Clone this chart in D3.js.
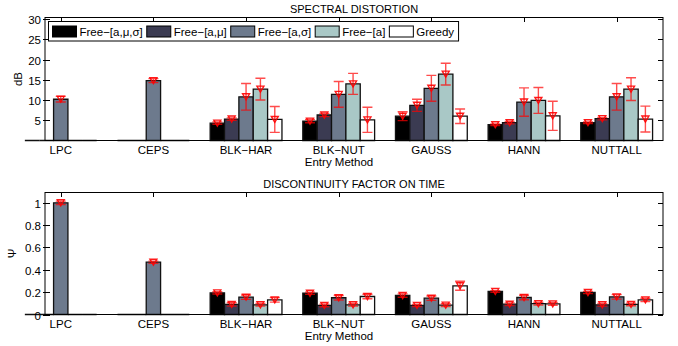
<!DOCTYPE html>
<html lang="en">
  <head>
    <meta charset="utf-8">
    <title>Spectral distortion and discontinuity</title>
    <script src="https://d3js.org/d3.v7.min.js" charset="utf-8"></script>
    <style>
      body { margin: 0; background: white; }
      text { font-family: "Liberation Sans", Arial, sans-serif; fill: #000; }
    </style>
  </head>
  <body>
    <script>
      var categories = ["LPC", "CEPS", "BLK\u2212HAR", "BLK\u2212NUT", "GAUSS", "HANN", "NUTTALL"];
      var series = ["Free\u2212[a,\u03bc,\u03c3]", "Free\u2212[a,\u03bc]", "Free\u2212[a,\u03c3]", "Free\u2212[a]", "Greedy"];
      var colors = ["#000000", "#3b3b52", "#6d7a8d", "#a9c8c6", "#ffffff"];

      // spectral distortion (dB), one row per series
      var sdMean = [
        [0, 0, 4.3, 4.8, 6.0, 3.9, 4.4],
        [0, 0, 5.3, 6.3, 8.7, 4.4, 5.4],
        [10.2, 14.8, 10.8, 11.4, 12.9, 9.5, 10.8],
        [0, 0, 12.7, 14.0, 16.4, 9.9, 12.7],
        [0, 0, 5.2, 5.1, 6.0, 6.1, 5.3]
      ];
      var sdErr = [
        [null, null, 0.3, 0.4, 1.1, 0.2, 0.2],
        [null, null, 0.3, 0.4, 1.5, 0.3, 0.3],
        [0.7, 0.5, 3.3, 3.2, 3.2, 3.5, 3.3],
        [null, null, 2.7, 2.6, 2.7, 3.2, 2.8],
        [null, null, 3.2, 3.1, 1.8, 3.6, 3.2]
      ];
      var sdTicks = [5, 10, 15, 20, 25, 30];

      // discontinuity factor on time (psi)
      var dfMean = [
        [0, 0, 0.194, 0.19, 0.17, 0.206, 0.197],
        [0, 0, 0.09, 0.081, 0.081, 0.092, 0.087],
        [1.0, 0.468, 0.155, 0.15, 0.146, 0.152, 0.158],
        [0, 0, 0.087, 0.087, 0.084, 0.097, 0.09],
        [0, 0, 0.131, 0.161, 0.257, 0.095, 0.131]
      ];
      var dfErr = [
        [null, null, 0.01, 0.01, 0.015, 0.008, 0.01],
        [null, null, 0.015, 0.012, 0.01, 0.012, 0.012],
        [0.015, 0.01, 0.02, 0.02, 0.02, 0.02, 0.02],
        [null, null, 0.012, 0.012, 0.012, 0.012, 0.012],
        [null, null, 0.02, 0.02, 0.04, 0.012, 0.015]
      ];
      var dfTicks = [0, 0.2, 0.4, 0.6, 0.8, 1];

      var width = 678, height = 346;
      var barW = 0.155;

      var svg = d3.select("body").append("svg")
        .attr("width", width)
        .attr("height", height);

      svg.append("rect").attr("width", width).attr("height", height).attr("fill", "white");

      function panel(o) {
        var g = svg.append("g");
        var x = d3.scaleLinear().domain([0.83, 7.5]).range([45, 663]);
        var y = d3.scaleLinear().domain(o.ydomain).range([o.bottom, o.top]);

        // bars
        o.mean.forEach(function(row, s) {
          g.append("g").selectAll("path")
            .data(row)
            .enter().append("path")
            .attr("d", function(d, i) {
              var x0 = x(i + 1 + (s - 2.5) * barW), x1 = x(i + 1 + (s - 1.5) * barW);
              return "M" + x0 + "," + y(0) + "V" + y(d) + "H" + x1 + "V" + y(0) + "Z";
            })
            .attr("fill", colors[s])
            .attr("stroke", "#111")
            .attr("stroke-width", 1.3);
        });

        // error bars + markers
        o.mean.forEach(function(row, s) {
          var eg = g.append("g").attr("stroke", "#ff0000").attr("fill", "none").attr("stroke-opacity", 0.7).attr("stroke-width", 1.4);
          row.forEach(function(d, i) {
            var e = o.err[s][i];
            if (e == null) return;
            var cx = x(i + 1 + (s - 2) * barW);
            var yt = y(d + e), yb = y(d - e);
            eg.append("path").attr("d", "M" + cx + "," + yt + "V" + yb +
              "M" + (cx - 5) + "," + yt + "H" + (cx + 5) +
              "M" + (cx - 5) + "," + yb + "H" + (cx + 5));
            var ym = y(d);
            eg.append("path").attr("d", "M" + (cx - 3.5) + "," + (ym - 3) + "H" + (cx + 3.5) + "L" + cx + "," + (ym + 3) + "Z")
              .attr("stroke-opacity", 0.9);
          });
        });

        // box
        g.append("rect")
          .attr("x", 45).attr("y", o.top)
          .attr("width", 663 - 45).attr("height", o.bottom - o.top)
          .attr("fill", "none").attr("stroke", "#000").attr("stroke-width", 1);

        // y ticks, left and right
        var yt = g.append("g");
        o.ticks.forEach(function(t) {
          var yy = Math.round(y(t)) + 0.5;
          yt.append("line").attr("x1", 43).attr("x2", 50).attr("y1", yy).attr("y2", yy).attr("stroke", "#000");
          yt.append("line").attr("x1", 658).attr("x2", 663).attr("y1", yy).attr("y2", yy).attr("stroke", "#000");
          yt.append("text").attr("x", 41).attr("y", yy + 4)
            .attr("text-anchor", "end").attr("font-size", "11.5px").text(o.fmt(t));
        });

        // x ticks on top and category labels
        categories.forEach(function(c, i) {
          var xx = Math.round(x(i + 1)) + 0.5;
          g.append("line").attr("x1", xx).attr("x2", xx).attr("y1", o.top).attr("y2", o.top + 4.5).attr("stroke", "#000");
          g.append("text").attr("x", x(i + 1)).attr("y", o.bottom + 13)
            .attr("text-anchor", "middle").attr("font-size", "11.5px").text(c);
        });

        g.append("text").attr("x", 354).attr("y", o.top - 4.5)
          .attr("text-anchor", "middle").attr("font-size", "11px").text(o.title);
        g.append("text").attr("x", 339).attr("y", o.bottom + 25.5)
          .attr("text-anchor", "middle").attr("font-size", "11.5px").text("Entry Method");
        g.append("text")
          .attr("transform", "translate(" + o.ylx + "," + ((o.top + o.bottom) / 2) + ") rotate(-90)")
          .attr("text-anchor", "middle").attr("font-size", "11.5px").text(o.ylabel);
      }

      panel({
        top: 17.5, bottom: 140.5, ydomain: [0, 30.4],
        mean: sdMean, err: sdErr, ticks: sdTicks,
        fmt: d3.format("d"), title: "SPECTRAL DISTORTION", ylabel: "dB", ylx: 22
      });
      panel({
        top: 192.5, bottom: 314.5, ydomain: [0, 1.092],
        mean: dfMean, err: dfErr, ticks: dfTicks,
        fmt: function(t) { return t === 0 || t === 1 ? String(t) : d3.format(".1f")(t); },
        title: "DISCONTINUITY FACTOR ON TIME", ylabel: "\u03a8", ylx: 16
      });

      // legend
      var leg = svg.append("g");
      var lbox = leg.append("rect")
        .attr("x", 48.5).attr("y", 21.5).attr("height", 19.5)
        .attr("fill", "white").attr("stroke", "#000").attr("stroke-width", 1);
      var lx = 52.5;
      series.forEach(function(s, i) {
        leg.append("rect").attr("x", lx).attr("y", 26).attr("width", 24).attr("height", 11)
          .attr("fill", colors[i]).attr("stroke", "#000").attr("stroke-width", 1);
        var t = leg.append("text").attr("x", lx + 27).attr("y", 35.5)
          .attr("font-size", "11.5px").text(s);
        lx = lx + 27 + t.node().getComputedTextLength() + 4;
      });
      lbox.attr("width", lx - 48.5 + 0.5);
    </script>
  </body>
</html>
